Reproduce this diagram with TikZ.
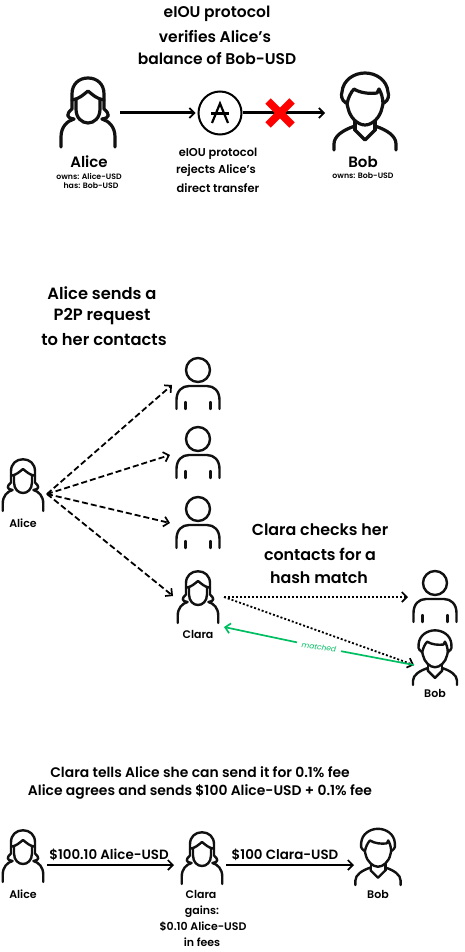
\documentclass[tikz,border=0pt]{standalone}
\usepackage{fontspec}
\setmainfont{Poppins}[BoldFont={Poppins SemiBold}]
\usetikzlibrary{arrows.meta}
\definecolor{matchgreen}{HTML}{00BF63}
\definecolor{ink}{HTML}{111111}
\tikzset{
  tip/.style={-{Straight Barb[length=5pt,width=10pt,line width=1.7pt]}},
  icon/.style={draw=ink,line cap=round,line join=round},
  lbl/.style={inner sep=0pt,text=black,font=\bfseries\fontsize{#1}{#1}\selectfont},
  flow/.style={tip,line width=3pt,draw=black},
  thinflow/.style={tip,line width=2.3pt,draw=black},
  dashedflow/.style={tip,line width=1.8pt,dash pattern=on 6pt off 3pt,draw=black},
  dottedflow/.style={tip,line width=1.8pt,dash pattern=on 2pt off 2pt,draw=black},
  pics/woman/.style={code={
    \begin{scope}[yscale=-1]
      \draw[icon] (-27,0) -- (-27,10) .. controls (-27,20) and (-21,26) .. (-14,28);
      \draw[icon] (27,0) -- (27,10) .. controls (27,20) and (21,26) .. (14,28);
      \draw[icon] (-14,28) .. controls (-22,29) and (-22,33) .. (-16,38) -- (-16,53) .. controls (-16,63) and (-9,69) .. (0,69) .. controls (9,69) and (16,63) .. (16,53) -- (16,38) .. controls (22,33) and (22,29) .. (14,28);
      \draw[icon] (-16,47) .. controls (-9,48) and (-5,52) .. (0,56) .. controls (5,52) and (9,48) .. (16,47);
      \draw[icon] (-12,48) -- (-12,38) .. controls (-12,29) and (-6,24) .. (0,24) .. controls (6,24) and (12,29) .. (12,38) -- (12,48);
    \end{scope}}},
  pics/man/.style={code={
    \begin{scope}[yscale=-1]
      \draw[icon] (-31,0) -- (-31,6) .. controls (-31,14) and (-22,20) .. (-10,24) -- (-10,20) -- (0,10) -- (10,20) -- (10,24) .. controls (22,20) and (31,14) .. (31,6) -- (31,0);
      \draw[icon] (-10,20) -- (-10,29);
      \draw[icon] (10,20) -- (10,29);
      \draw[icon] (-19,47) .. controls (-24,50) and (-24,55) .. (-23,58) .. controls (-22,70) and (-11,77) .. (0,77) .. controls (11,77) and (22,70) .. (23,58) .. controls (24,55) and (24,50) .. (19,47);
      \draw[icon] (-18,46) .. controls (-17,52) and (-14,58) .. (-11,61) .. controls (-5,57) and (5,56) .. (12,57) -- (14,61) .. controls (16,58) and (18,52) .. (18,46);
      \draw[icon] (-18,46) -- (-17,42) .. controls (-15,32) and (-7,25) .. (0,25) .. controls (7,25) and (15,32) .. (17,42) -- (18,46);
    \end{scope}}},
  pics/contact/.style={code={
    \begin{scope}[yscale=-1]
      \draw[icon] (-21.5,0) -- (-21.5,9) .. controls (-21.5,18) and (-16,23) .. (-9,23) -- (9,23) .. controls (16,23) and (21.5,18) .. (21.5,9) -- (21.5,0);
      \draw[icon] (-12.5,0) -- (-12.5,7);
      \draw[icon] (12.5,0) -- (12.5,7);
      \draw[icon] (0,39) circle[radius=12];
    \end{scope}}},
}
\begin{document}
\begin{tikzpicture}[x=1pt,y=-1pt]
\useasboundingbox (0,0) rectangle (464,952);
% --- top panel
\node[lbl=15.5] (t1) at (217,14) {eIOU protocol};
\node[lbl=15.5] (t2) at (215,36) {verifies Alice’s};
\node[lbl=15.5] (t3) at (217,59) {balance of Bob-USD};
\pic[line width=3.2pt] at (88,147) {woman};
\pic[line width=3.2pt] at (365,150) {man};
\node[lbl=15] (aliceA) at (89,162) {Alice};
\node[lbl=7.8] (aliceB) at (89,176) {owns: Alice-USD};
\node[lbl=7.8] (aliceC) at (91,186) {has: Bob-USD};
\node[lbl=15] (bobA) at (363,162) {Bob};
\node[lbl=7.8] (bobB) at (363,176) {owns: Bob-USD};
\node[circle,draw=black,line width=2pt,minimum size=43pt,inner sep=0pt] (proto) at (220,113) {};
\draw[black,line width=2.2pt,line join=miter] (212,123) -- (220,103.5) -- (228,123);
\draw[black,line width=2.2pt] (211,113.5) -- (229,113.5);
\coordinate (senderA) at (120,113);
\coordinate (receiverA) at (325,113);
\draw[flow,shorten >=2pt] (senderA) -- (proto);
\draw[flow] (proto) -- (receiverA);
\draw[draw=red,line width=7.5pt] (268,101) -- (292,125) (292,101) -- (268,125);
\node[lbl=11.4] (r1) at (218,154) {eIOU protocol};
\node[lbl=11.4] (r2) at (216,171) {rejects Alice’s};
\node[lbl=11.4] (r3) at (218,188) {direct transfer};
% --- middle panel
\node[lbl=16.3] (p1) at (102,293) {Alice sends a};
\node[lbl=16.3] (p2) at (102,317) {P2P request};
\node[lbl=16.3] (p3) at (104,340) {to her contacts};
\begin{scope}[line width=2.4pt]
\pic[scale=.75] at (23,511) {woman};
\pic[scale=.75] at (198,623) {woman};
\pic at (198,409) {contact};
\pic at (198,478) {contact};
\pic at (198,548) {contact};
\pic at (435,622) {contact};
\pic[scale=.71] at (435,685) {man};
\end{scope}
\node[lbl=11] (aliceM) at (23,523) {Alice};
\node[lbl=11] (claraM) at (198,634) {Clara};
\node[lbl=11] (bobM) at (435,693) {Bob};
\coordinate (fan) at (47,494);
\coordinate (c1) at (172,385);
\coordinate (c2) at (170,455);
\coordinate (c3) at (170,523);
\coordinate (c4) at (173,596);
\draw[dashedflow] (fan) -- (c1);
\draw[dashedflow] (fan) -- (c2);
\draw[dashedflow] (fan) -- (c3);
\draw[dashedflow] (fan) -- (c4);
\node[lbl=15.9] (k1) at (320,530) {Clara checks her};
\node[lbl=15.9] (k2) at (320,554) {contacts for a};
\node[lbl=15.9] (k3) at (319,578) {hash match};
\coordinate (clara1) at (224,597);
\coordinate (dest1) at (408,597);
\coordinate (dest2) at (414,665);
\coordinate (back) at (224,627);
\draw[dottedflow] (clara1) -- (dest1);
\draw[dottedflow] (clara1) -- (dest2);
\node[rotate=-8,inner xsep=5pt,inner ysep=1pt,fill=white,text=matchgreen,font=\itshape\fontsize{7.5}{7.5}\selectfont] (match) at (319,647) {matched};
\draw[line width=1.7pt,draw=matchgreen] (dest2) -- (match);
\draw[tip,line width=1.7pt,draw=matchgreen] (match) -- (back);
% --- bottom panel
\node[lbl=13.9] (b1) at (200,772) {Clara tells Alice she can send it for 0.1\% fee};
\node[lbl=13.9] (b2) at (200,792) {Alice agrees and sends \$100 Alice-USD + 0.1\% fee};
\begin{scope}[line width=2.4pt]
\pic[scale=.75] at (23,882) {woman};
\pic[scale=.75] at (202,884) {woman};
\pic[scale=.73] at (378,885) {man};
\end{scope}
\node[lbl=11] (aliceL) at (23,894) {Alice};
\node[lbl=11] (claraL) at (201,894) {Clara};
\node[lbl=11] (bobL) at (378,894) {Bob};
\node[lbl=11] (g1) at (202,912) {gains:};
\node[lbl=11] (g2) at (203,927) {\$0.10 Alice-USD};
\node[lbl=11] (g3) at (202,942) {in fees};
\coordinate (s1) at (47,865);
\coordinate (e1) at (174,865);
\coordinate (s2) at (226,865);
\coordinate (e2) at (354,865);
\draw[thinflow] (s1) -- (e1);
\draw[thinflow] (s2) -- (e2);
\node[lbl=13.4] (a1) at (109,855) {\$100.10 Alice-USD};
\node[lbl=13.4] (a2) at (285,855) {\$100 Clara-USD};
\end{tikzpicture}
\end{document}
